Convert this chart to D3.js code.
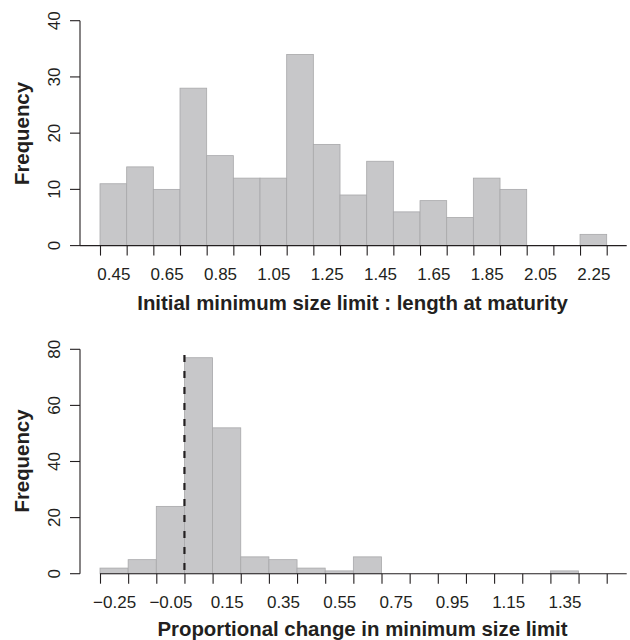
<!DOCTYPE html>
<html>
<head>
<meta charset="utf-8">
<script src="https://cdn.jsdelivr.net/npm/d3@7"></script>
<style>
  html, body { margin: 0; padding: 0; background: #fff; }
  svg { display: block; }
  text { font-family: "Liberation Sans", Arial, Helvetica, sans-serif; fill: #231f20; }
</style>
</head>
<body>
<svg id="chart" width="630" height="640"></svg>
<script>
// ---------- data ----------
const topBinStart = 0.4;
const topBinWidth = 0.1;
const topCounts = [11, 14, 10, 28, 16, 12, 12, 34, 18, 9, 15, 6, 8, 5, 12, 10, 0, 0, 2];
const topXLabels = ["0.45", "0.65", "0.85", "1.05", "1.25", "1.45", "1.65", "1.85", "2.05", "2.25"];
const topXLabelValues = [0.45, 0.65, 0.85, 1.05, 1.25, 1.45, 1.65, 1.85, 2.05, 2.25];
const topYTicks = [0, 10, 20, 30, 40];
const topXTitle = "Initial minimum size limit : length at maturity";

const botBinStart = -0.3;
const botBinWidth = 0.1;
const botCounts = [2, 5, 24, 77, 52, 6, 5, 2, 1, 6, 0, 0, 0, 0, 0, 0, 1, 0];
const botXLabels = ["\u22120.25", "\u22120.05", "0.15", "0.35", "0.55", "0.75", "0.95", "1.15", "1.35"];
const botXLabelValues = [-0.25, -0.05, 0.15, 0.35, 0.55, 0.75, 0.95, 1.15, 1.35];
const botYTicks = [0, 20, 40, 60, 80];
const botXTitle = "Proportional change in minimum size limit";
const refLineX = 0;      // dashed reference line position
const refLineTop = 78;   // dashed line height (frequency units)

const yTitle = "Frequency";

// ---------- drawing ----------
const svg = d3.select("#chart");
const ink = "#231f20";
const barFill = "#c7c7c9";
const barStroke = "#a8a8aa";

function panel(cfg) {
  const nb = cfg.counts.length;
  const bins = cfg.counts.map((c, i) => ({
    x0: cfg.binStart + i * cfg.binWidth,
    x1: cfg.binStart + (i + 1) * cfg.binWidth,
    n: c
  }));
  const xMin = cfg.binStart, xMax = cfg.binStart + nb * cfg.binWidth;
  const x = d3.scaleLinear().domain([xMin, xMax]).range([100, 606.7]);
  const y = d3.scaleLinear().domain([0, cfg.yMax]).range([cfg.y0, cfg.yTop]);
  const g = svg.append("g");

  // bars
  g.selectAll("rect.bar").data(bins.filter(b => b.n > 0)).join("rect")
    .attr("class", "bar")
    .attr("x", d => x(d.x0))
    .attr("width", d => x(d.x1) - x(d.x0))
    .attr("y", d => y(d.n))
    .attr("height", d => y(0) - y(d.n))
    .attr("fill", barFill)
    .attr("stroke", barStroke)
    .attr("stroke-width", 0.8);

  // x axis: ticks at bin edges
  const edges = d3.range(nb + 1).map(i => cfg.binStart + i * cfg.binWidth);
  const xAxis = d3.axisBottom(x).tickValues(edges).tickSize(10).tickFormat("");
  const gx = g.append("g").attr("transform", `translate(0,${cfg.y0})`).call(xAxis);
  gx.select(".domain").remove();
  gx.selectAll(".tick line").attr("stroke", ink).attr("stroke-width", 1.1);
  // axis line
  g.append("line")
    .attr("x1", cfg.axisStart).attr("x2", x(xMax) + 20)
    .attr("y1", cfg.y0).attr("y2", cfg.y0)
    .attr("stroke", ink).attr("stroke-width", 1.1);

  // x labels at bin centres
  const xLab = d3.axisBottom(x).tickValues(cfg.xLabelValues).tickSize(0)
    .tickFormat((d, i) => cfg.xLabels[i]);
  const gl = g.append("g").attr("transform", `translate(0,${cfg.labelBase})`).call(xLab);
  gl.select(".domain").remove();
  gl.selectAll(".tick text")
    .attr("y", 0).attr("dy", 0)
    .attr("font-size", 17)
    .attr("font-family", "Liberation Sans, Arial, sans-serif")
    .attr("fill", ink);

  // y axis
  g.append("line")
    .attr("x1", 80).attr("x2", 80)
    .attr("y1", y(0)).attr("y2", y(cfg.yMax))
    .attr("stroke", ink).attr("stroke-width", 1.1);
  g.selectAll("line.ytick").data(cfg.yTicks).join("line")
    .attr("class", "ytick")
    .attr("x1", 70).attr("x2", 80)
    .attr("y1", d => y(d)).attr("y2", d => y(d))
    .attr("stroke", ink).attr("stroke-width", 1.1);
  g.selectAll("text.ylab").data(cfg.yTicks).join("text")
    .attr("class", "ylab")
    .attr("transform", d => `translate(60,${y(d)}) rotate(-90)`)
    .attr("text-anchor", "middle")
    .attr("font-size", 17)
    .text(d => d);

  // titles
  g.append("text")
    .attr("x", cfg.xTitleX).attr("y", cfg.xTitleBase)
    .attr("text-anchor", "middle")
    .attr("font-size", 20.4).attr("font-weight", "bold")
    .text(cfg.xTitle);
  g.append("text")
    .attr("transform", `translate(28.5,${cfg.yTitleY}) rotate(-90)`)
    .attr("text-anchor", "middle")
    .attr("font-size", 20.4).attr("font-weight", "bold")
    .text(yTitle);

  return { x, y, g };
}

panel({
  counts: topCounts, binStart: topBinStart, binWidth: topBinWidth,
  yMax: 40, y0: 245.6, yTop: 20.7, axisStart: 80,
  xLabels: topXLabels, xLabelValues: topXLabelValues, yTicks: topYTicks,
  labelBase: 280, xTitle: topXTitle, xTitleX: 352.5, xTitleBase: 310, yTitleY: 133.5
});

const bot = panel({
  counts: botCounts, binStart: botBinStart, binWidth: botBinWidth,
  yMax: 80, y0: 573.7, yTop: 349.3, axisStart: 100,
  xLabels: botXLabels, xLabelValues: botXLabelValues, yTicks: botYTicks,
  labelBase: 608.3, xTitle: botXTitle, xTitleX: 362.5, xTitleBase: 636, yTitleY: 461
});

// dashed reference line (drawn top-down so the dash pattern starts at the top)
bot.g.append("line")
  .attr("x1", bot.x(refLineX)).attr("x2", bot.x(refLineX))
  .attr("y1", bot.y(refLineTop)).attr("y2", bot.y(0))
  .attr("stroke", ink).attr("stroke-width", 2.2)
  .attr("stroke-dasharray", "7,9");
</script>
</body>
</html>
